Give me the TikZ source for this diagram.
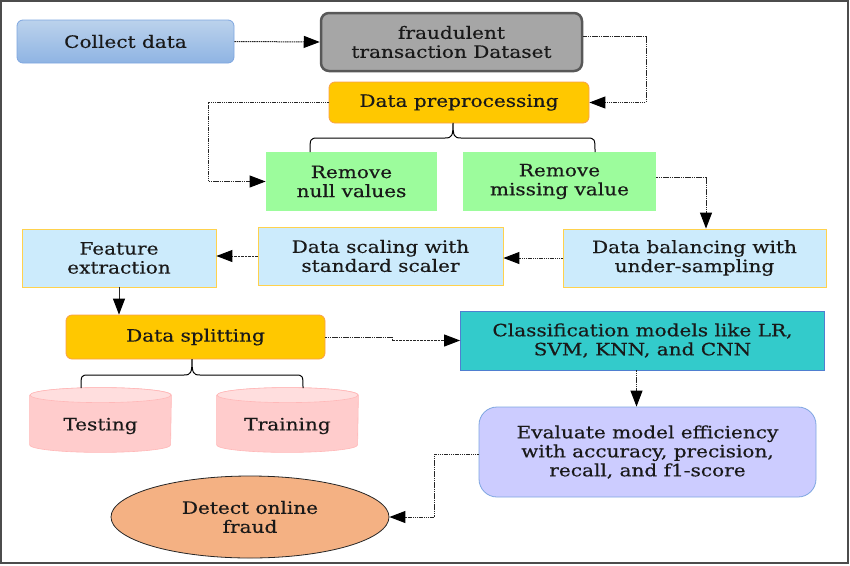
\documentclass[tikz,border=0pt]{standalone}
\usepackage{fontspec}
\setmainfont{DejaVu Serif}[FakeStretch=1.18,FakeBold=0.4]
\usetikzlibrary{arrows.meta,shapes.geometric}
\definecolor{colTop}{HTML}{BBD2EC}
\definecolor{colBot}{HTML}{8FB4E3}
\definecolor{colLine}{HTML}{7EA6E0}
\definecolor{dsFill}{HTML}{A6A6A6}
\definecolor{dsLine}{HTML}{585858}
\definecolor{yelFill}{HTML}{FFC800}
\definecolor{yelLine}{HTML}{F9A04A}
\definecolor{grnFill}{HTML}{9CFC9C}
\definecolor{lbFill}{HTML}{CCEBFC}
\definecolor{lbLine}{HTML}{FFD24D}
\definecolor{cyFill}{HTML}{33CBCB}
\definecolor{cyLine}{HTML}{4F7FD0}
\definecolor{evFill}{HTML}{CCCCFF}
\definecolor{dtFill}{HTML}{F4B183}
\definecolor{cylBody}{HTML}{FFCCCC}
\definecolor{cylTop}{HTML}{FFDEDE}
\definecolor{cylLine}{HTML}{FFB8B8}
\begin{document}
\begin{tikzpicture}[x=1pt,y=-1pt,
  box/.style={align=center, font=\fontsize{17}{19}\selectfont, text=black!90, inner sep=0pt, line width=0.8pt},
  conn/.style={line width=1pt, draw=black!85, dash pattern=on 1.5pt off 0.7pt,
    -{Triangle[length=16pt,width=12pt,color=black]}},
  plain/.style={line width=1pt, draw=black!85, dash pattern=on 1.5pt off 0.7pt},
  bracel/.style={line width=1pt, draw=black}
]
\useasboundingbox (0,0) rectangle (850,565);
\draw[line width=1.5pt, black!70] (1,1) rectangle (848,563);

% nodes
\node[box, rounded corners=6pt, top color=colTop, bottom color=colBot, draw=colLine,
  minimum width=217pt, minimum height=43pt] (collect) at (125.5,41.5) {Collect data};
\node[box, rounded corners=8pt, fill=dsFill, draw=dsLine, line width=2.5pt,
  minimum width=261pt, minimum height=58pt] (dataset) at (451.5,42) {fraudulent\\transaction Dataset};
\node[box, rounded corners=6pt, fill=yelFill, draw=yelLine,
  minimum width=260pt, minimum height=41pt] (prep) at (459,102.5) {Data preprocessing};
\node[box, fill=grnFill, minimum width=171pt, minimum height=59pt] (nullv) at (351.5,181.5) {Remove\\null values};
\node[box, fill=grnFill, minimum width=193pt, minimum height=59pt] (missing) at (559.5,181.5) {Remove\\missing value};
\node[box, fill=lbFill, draw=lbLine, minimum width=263pt, minimum height=58pt] (balance) at (694.5,258) {Data balancing with\\under-sampling};
\node[box, fill=lbFill, draw=lbLine, minimum width=245pt, minimum height=58pt] (scaling) at (380.5,256) {Data scaling with\\standard scaler};
\node[box, fill=lbFill, draw=lbLine, minimum width=194pt, minimum height=58pt] (feature) at (119,258) {Feature\\extraction};
\node[box, rounded corners=6pt, fill=yelFill, draw=yelLine,
  minimum width=259pt, minimum height=44pt] (split) at (195.5,337) {Data splitting};
\node[box, fill=cyFill, draw=cyLine, minimum width=364pt, minimum height=59pt] (classif) at (642.5,340.5) {Classification models like LR,\\SVM, KNN, and CNN};
\node[box, rounded corners=18pt, fill=evFill, draw=colLine, minimum width=337pt, minimum height=90pt] (evalm) at (647.5,452) {Evaluate model efficiency\\with accuracy, precision,\\recall, and f1-score};
\node[box, ellipse, fill=dtFill, draw=black!85, minimum width=278pt, minimum height=82pt] (detect) at (250,517) {Detect online\\fraud};

% cylinders
\foreach \n/\cx/\t in {testing/100.5/Testing, training/287.5/Training}{
  \node[box, minimum width=141pt, minimum height=64pt] (\n) at (\cx,420) {};
  \path[fill=cylBody, draw=cylLine, line width=0.6pt]
    ([yshift=-7.5pt]\n.north west) -- ([yshift=7.5pt]\n.south west)
    arc[start angle=180, end angle=360, x radius=70.5pt, y radius=7.5pt]
    -- ([yshift=-7.5pt]\n.north east)
    arc[start angle=0, end angle=180, x radius=70.5pt, y radius=7.5pt] -- cycle;
  \path[fill=cylTop, draw=cylLine, line width=0.6pt] ([yshift=-7.5pt]\n.north) ellipse [x radius=70.5pt, y radius=7.5pt];
  \node[box] at ([yshift=-6pt]\n.center) {\t};
}

% connectors
\coordinate (c1) at (646,36);
\coordinate (c2) at (208,0);
\coordinate (c3) at (706,0);
\coordinate (c4) at (392,0);
\coordinate (c5) at (434,0);
\draw[conn] (collect.east) -- (dataset.west);
\draw[conn] ([yshift=6pt]dataset.east) -- (c1) |- (prep.east);
\draw[conn] (prep.west) -- (prep.west -| c2) |- (nullv.west);
\draw[conn] ([yshift=4.5pt]missing.east) -| (c3 |- balance.north);
\draw[conn] (balance.west) -- (balance.west -| scaling.east);
\draw[conn, dash pattern=on 2.5pt off 1pt] (scaling.west) -- (scaling.west -| feature.east);
\draw[conn, dash pattern={}] (feature.south) -- (feature.south |- split.north);
\draw[plain] (split.east) -- (split.east -| c4) -- (c4 |- classif.west);
\draw[conn, dash pattern=on 2.5pt off 1pt] (c4 |- classif.west) -- (classif.west);
\draw[conn] ([xshift=-6pt]classif.south) -- ([xshift=-6pt]classif.south |- evalm.north);
\draw[conn] ([yshift=-2pt]evalm.west) -- ([yshift=-2pt]evalm.west -| c5) |- (detect.east);

% braces
\coordinate (p1) at (310,152);
\coordinate (p2) at (453,123);
\coordinate (p3) at (595,152);
\draw[bracel] (p1) .. controls (310,139) and (310,138) .. (318,138) -- (445,138)
  .. controls (452,138) and (453,136) .. (p2)
  .. controls (453,136) and (454,138) .. (461,138) -- (587,138)
  .. controls (595,138) and (595,139) .. (p3);
\coordinate (q1) at (81,388);
\coordinate (q2) at (192,359);
\coordinate (q3) at (303,388);
\draw[bracel] (q1) .. controls (81,376) and (81,375) .. (88,375) -- (184,375)
  .. controls (191,375) and (192,373) .. (q2)
  .. controls (192,373) and (193,375) .. (200,375) -- (296,375)
  .. controls (303,375) and (303,376) .. (q3);
\end{tikzpicture}
\end{document}
